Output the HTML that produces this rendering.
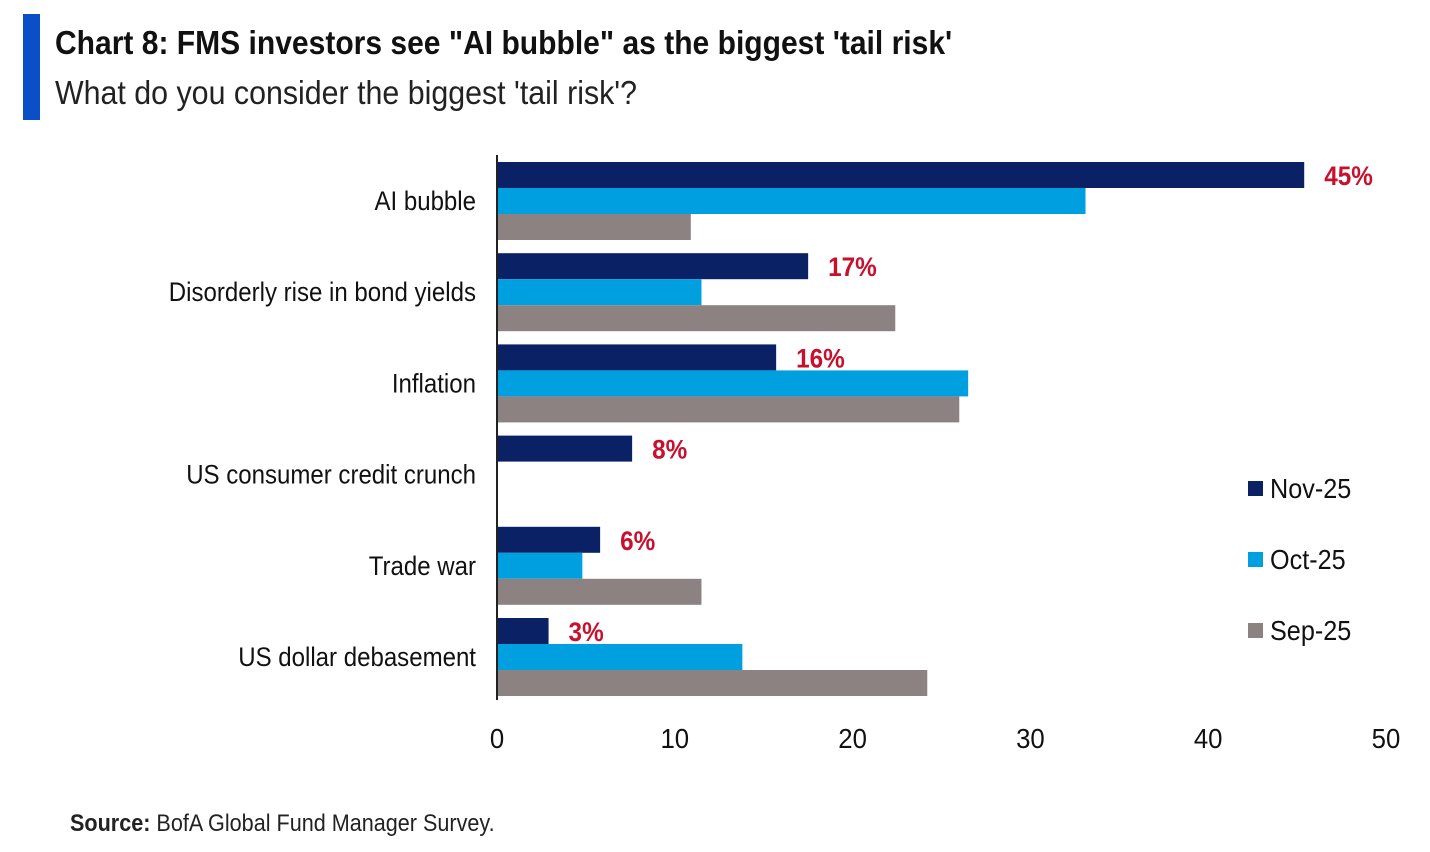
<!DOCTYPE html>
<html><head><meta charset="utf-8">
<style>
body{margin:0;width:1430px;height:852px;background:#fff;overflow:hidden;font-family:"Liberation Sans Narrow","Liberation Sans",sans-serif;}
.t{position:absolute;white-space:nowrap;transform-origin:0 0;}
</style></head>
<body>
<div style="position:absolute;left:23px;top:14px;width:17px;height:106px;background:#0a4fc8"></div>
<div class="t" style="left:55px;top:24px;font-size:33px;font-weight:bold;color:#111;transform:scaleX(0.91)">Chart 8: FMS investors see "AI bubble" as the biggest 'tail risk'</div>
<div class="t" style="left:55px;top:74px;font-size:33px;color:#222;transform:scaleX(0.92)">What do you consider the biggest 'tail risk'?</div>
<svg id="chart" width="1430" height="852" style="position:absolute;left:0;top:0"></svg>
<div class="t" style="left:70px;top:810px;font-size:24px;color:#222;transform:scaleX(0.9)"><b>Source:</b> BofA Global Fund Manager Survey.</div>
<script>
const categories=["AI bubble","Disorderly rise in bond yields","Inflation","US consumer credit crunch","Trade war","US dollar debasement"];
const nov25=[45.4,17.5,15.7,7.6,5.8,2.9];
const oct25=[33.1,11.5,26.5,0,4.8,13.8];
const sep25=[10.9,22.4,26.0,0,11.5,24.2];
const novLabels=["45%","17%","16%","8%","6%","3%"];
const xTicks=[0,10,20,30,40,50];
const seriesNames=["Nov-25","Oct-25","Sep-25"];
const colors=["#0a2165","#009fdf","#8c8281"];
const svg=document.getElementById('chart');
const NS='http://www.w3.org/2000/svg';
const x0=497,x1=1386,xmax=50;
const X=v=>x0+(x1-x0)*v/xmax;
const groupTop=i=>162+i*91.2;
const bh=26;
function mk(tag,attrs){const e=document.createElementNS(NS,tag);for(const k in attrs)e.setAttribute(k,attrs[k]);svg.appendChild(e);return e;}
function squeeze(e,f){const w=e.getComputedTextLength();e.setAttribute('textLength',w*f);e.setAttribute('lengthAdjust','spacingAndGlyphs');}
const series=[nov25,oct25,sep25];
categories.forEach((c,i)=>{
  series.forEach((s,j)=>{
    if(s[i]<=0)return;
    const r=mk('rect',{x:X(0),y:groupTop(i)+j*bh,width:X(s[i])-X(0),height:bh,fill:colors[j]});
    
    
  });
  const l=mk('text',{x:476,y:groupTop(i)+bh*1.5+9,'text-anchor':'end','font-size':27,fill:'#111'});
  l.textContent=c;
  
  
  squeeze(l,0.89);
  const v=mk('text',{x:X(nov25[i])+20,y:groupTop(i)+bh/2+10,'font-size':27,'font-weight':'bold',fill:'#c8102e'});
  v.textContent=novLabels[i];
  
  
  squeeze(v,0.9);
});
const ax=mk('line',{x1:x0,y1:155,x2:x0,y2:700,stroke:'#222','stroke-width':2});


xTicks.forEach(t=>{
  const e=mk('text',{x:X(t),y:748,'text-anchor':'middle','font-size':28,fill:'#111'});
  e.textContent=t;
  
  
  squeeze(e,0.92);
});
seriesNames.forEach((n,j)=>{
  const y=488+j*71;
  const r=mk('rect',{x:1248,y:y-7,width:15,height:15,fill:colors[j]});
  
  
  const t=mk('text',{x:1270,y:y+10,'font-size':28,fill:'#111'});
  t.textContent=n;
  
  
  squeeze(t,0.9);
});
</script>
</body></html>
